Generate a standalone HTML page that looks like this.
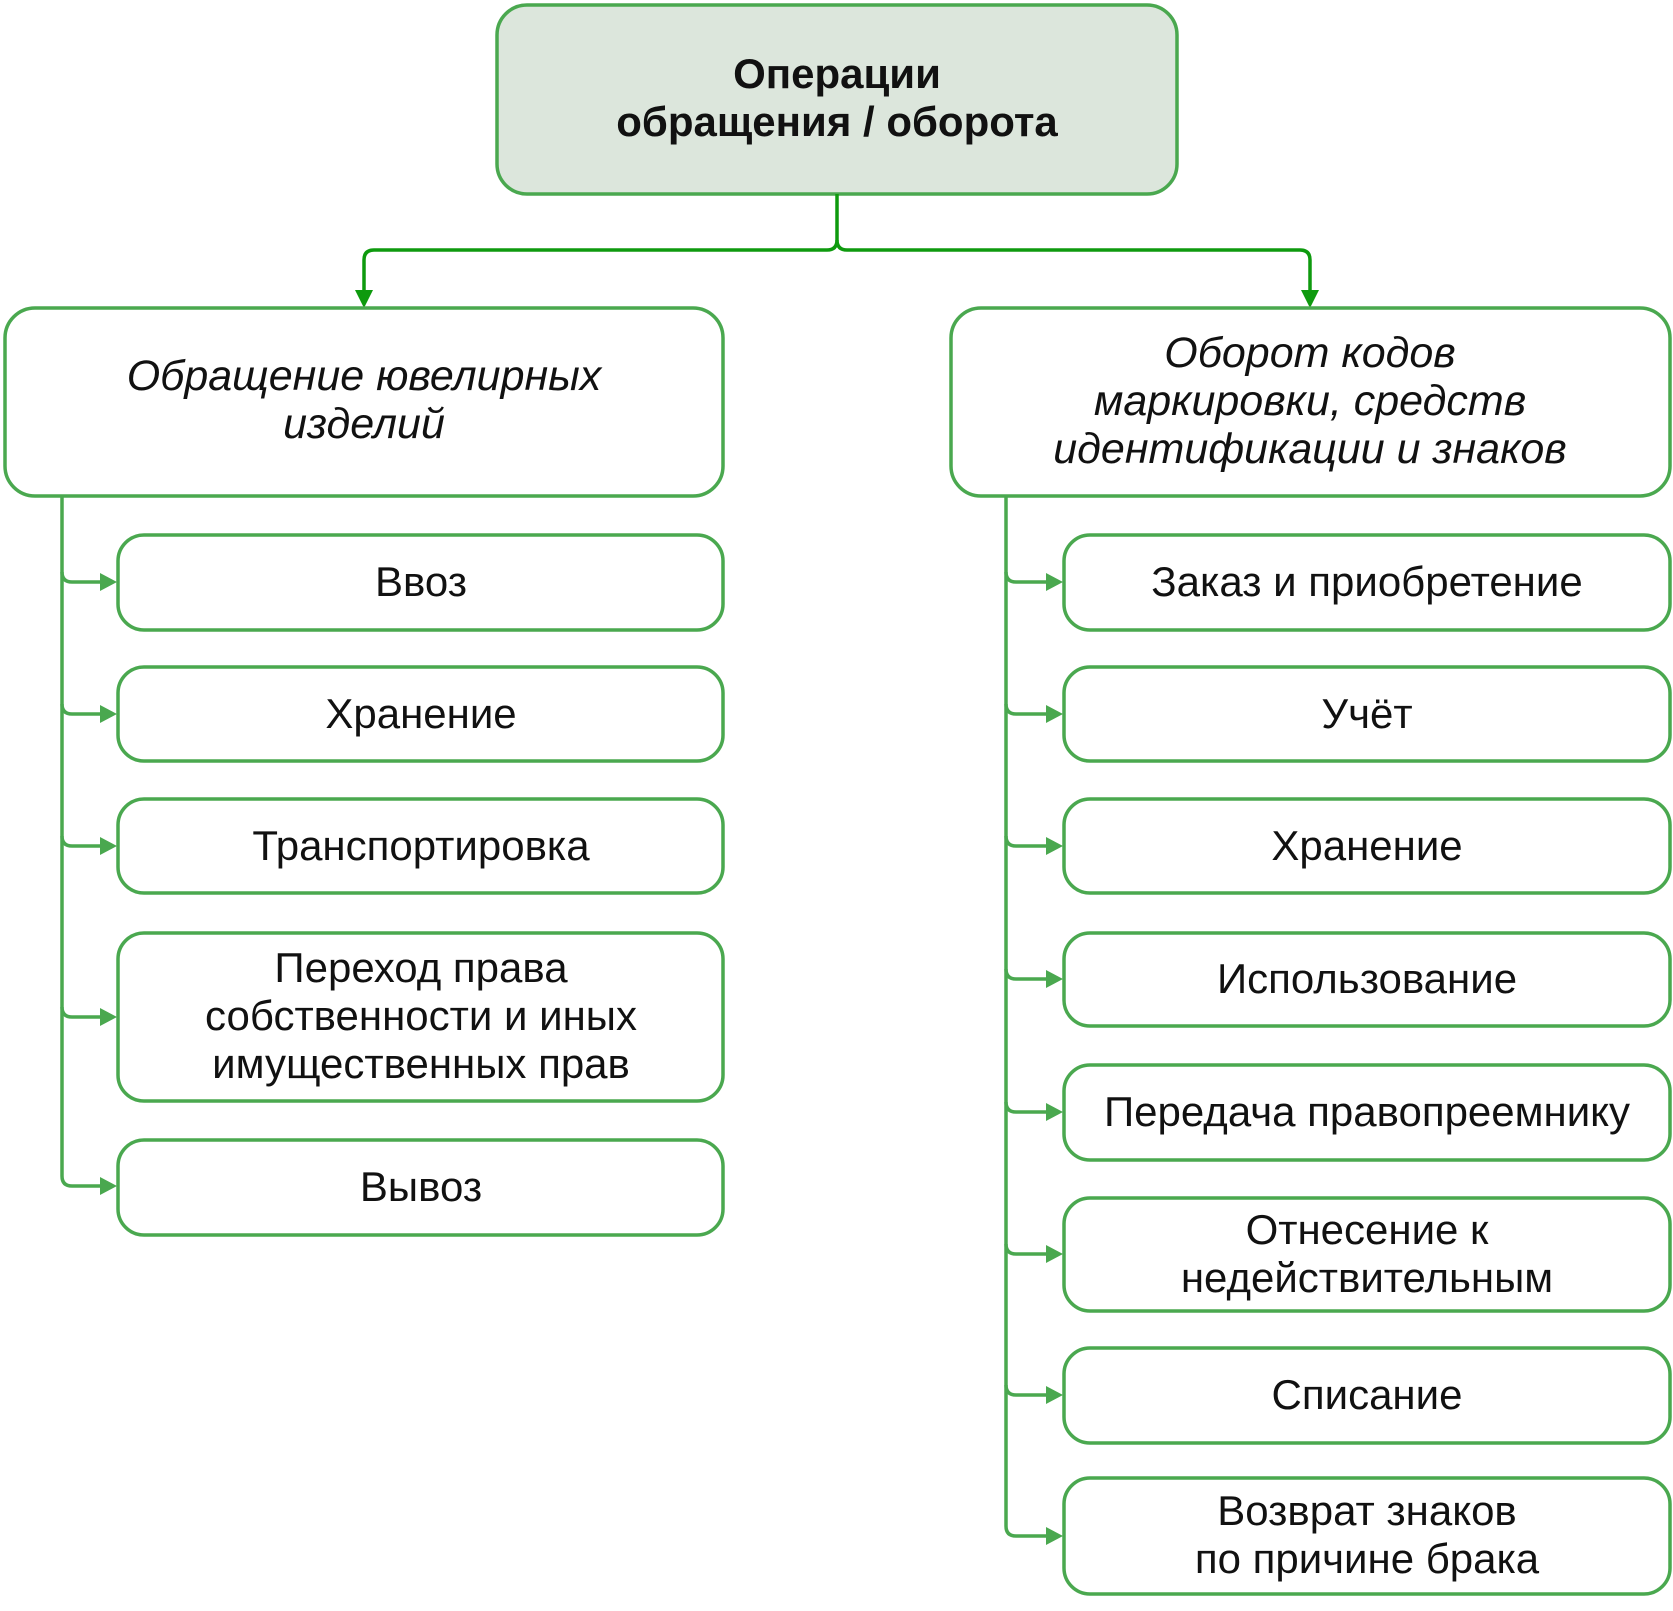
<!DOCTYPE html>
<html><head><meta charset="utf-8"><style>
html,body{margin:0;padding:0;background:#fff;}
svg{display:block;}
text{font-family:"Liberation Sans","DejaVu Sans",sans-serif;fill:#111;text-anchor:middle;}
.it{font-size:42px;}
.cat{font-size:43px;font-style:italic;}
.hd{font-size:42px;font-weight:bold;}
.b{fill:#fff;stroke:#4aa84f;stroke-width:3.5;}
.l{fill:none;stroke:#4aa84f;stroke-width:3.5;}
.t{fill:none;stroke:#0e9a0e;stroke-width:3.5;}
</style></head><body>
<svg width="1673" height="1611" viewBox="0 0 1673 1611" xmlns="http://www.w3.org/2000/svg">
<rect x="497" y="5" width="680" height="189" rx="30" fill="#dce6dc" stroke="#4aa84f" stroke-width="3.5"/>
<text class="hd" x="837" y="88">Операции</text>
<text class="hd" x="837" y="136">обращения / оборота</text>
<path class="t" d="M837 194 V240 Q837 250 827 250 H374 Q364 250 364 260 V292"/>
<path class="t" d="M837 240 Q837 250 847 250 H1300 Q1310 250 1310 260 V292"/>
<polygon points="355,290 373,290 364,308" fill="#0e9a0e"/>
<polygon points="1301,290 1319,290 1310,308" fill="#0e9a0e"/>
<rect class="b" x="5" y="308" width="718" height="188" rx="30"/>
<text class="cat" x="364" y="390">Обращение ювелирных</text>
<text class="cat" x="364" y="438">изделий</text>
<rect class="b" x="951" y="308" width="719" height="188" rx="30"/>
<text class="cat" x="1310" y="367">Оборот кодов</text>
<text class="cat" x="1310" y="415">маркировки, средств</text>
<text class="cat" x="1310" y="463">идентификации и знаков</text>
<path class="l" d="M62 496 V1176 Q62 1186 72 1186 H104"/>
<g class="l">
<path d="M62 572 Q62 582 72 582 H104"/>
<path d="M62 704 Q62 714 72 714 H104"/>
<path d="M62 836 Q62 846 72 846 H104"/>
<path d="M62 1007 Q62 1017 72 1017 H104"/>
</g>
<g fill="#4aa84f">
<polygon points="100,573 117,582 100,591"/>
<polygon points="100,705 117,714 100,723"/>
<polygon points="100,837 117,846 100,855"/>
<polygon points="100,1008 117,1017 100,1026"/>
<polygon points="100,1177 117,1186 100,1195"/>
</g>
<rect class="b" x="118" y="535" width="605" height="95" rx="26"/>
<text class="it" x="421" y="596">Ввоз</text>
<rect class="b" x="118" y="667" width="605" height="94" rx="26"/>
<text class="it" x="421" y="728">Хранение</text>
<rect class="b" x="118" y="799" width="605" height="94" rx="26"/>
<text class="it" x="421" y="860">Транспортировка</text>
<rect class="b" x="118" y="933" width="605" height="168" rx="26"/>
<text class="it" x="421" y="982">Переход права</text>
<text class="it" x="421" y="1030">собственности и иных</text>
<text class="it" x="421" y="1078">имущественных прав</text>
<rect class="b" x="118" y="1140" width="605" height="95" rx="26"/>
<text class="it" x="421" y="1201">Вывоз</text>
<path class="l" d="M1006 496 V1526 Q1006 1536 1016 1536 H1050"/>
<g class="l">
<path d="M1006 572 Q1006 582 1016 582 H1050"/>
<path d="M1006 704 Q1006 714 1016 714 H1050"/>
<path d="M1006 836 Q1006 846 1016 846 H1050"/>
<path d="M1006 969 Q1006 979 1016 979 H1050"/>
<path d="M1006 1102 Q1006 1112 1016 1112 H1050"/>
<path d="M1006 1244 Q1006 1254 1016 1254 H1050"/>
<path d="M1006 1385 Q1006 1395 1016 1395 H1050"/>
</g>
<g fill="#4aa84f">
<polygon points="1046,573 1063,582 1046,591"/>
<polygon points="1046,705 1063,714 1046,723"/>
<polygon points="1046,837 1063,846 1046,855"/>
<polygon points="1046,970 1063,979 1046,988"/>
<polygon points="1046,1103 1063,1112 1046,1121"/>
<polygon points="1046,1245 1063,1254 1046,1263"/>
<polygon points="1046,1386 1063,1395 1046,1404"/>
<polygon points="1046,1527 1063,1536 1046,1545"/>
</g>
<rect class="b" x="1064" y="535" width="606" height="95" rx="26"/>
<text class="it" x="1367" y="596">Заказ и приобретение</text>
<rect class="b" x="1064" y="667" width="606" height="94" rx="26"/>
<text class="it" x="1367" y="728">Учёт</text>
<rect class="b" x="1064" y="799" width="606" height="94" rx="26"/>
<text class="it" x="1367" y="860">Хранение</text>
<rect class="b" x="1064" y="933" width="606" height="93" rx="26"/>
<text class="it" x="1367" y="993">Использование</text>
<rect class="b" x="1064" y="1065" width="606" height="95" rx="26"/>
<text class="it" x="1367" y="1126">Передача правопреемнику</text>
<rect class="b" x="1064" y="1198" width="606" height="113" rx="26"/>
<text class="it" x="1367" y="1244">Отнесение к</text>
<text class="it" x="1367" y="1292">недействительным</text>
<rect class="b" x="1064" y="1348" width="606" height="95" rx="26"/>
<text class="it" x="1367" y="1409">Списание</text>
<rect class="b" x="1064" y="1478" width="606" height="116" rx="26"/>
<text class="it" x="1367" y="1525">Возврат знаков</text>
<text class="it" x="1367" y="1573">по причине брака</text>
</svg>
</body></html>
